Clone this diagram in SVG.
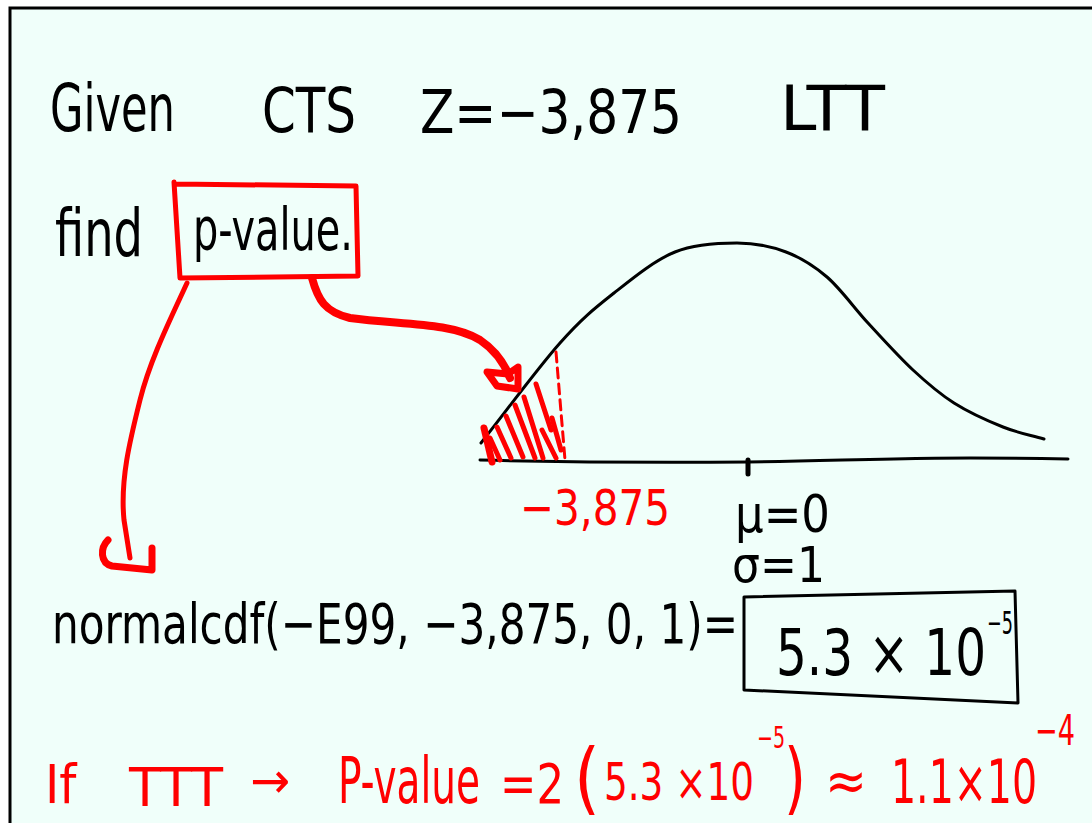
<svg xmlns="http://www.w3.org/2000/svg" width="1092" height="823" viewBox="0 0 1092 823">
<defs>
<style>
.ink{font-family:"Liberation Sans Narrow","DejaVu Sans Condensed","Liberation Sans",sans-serif;fill:#000}
.red{font-family:"Liberation Sans Narrow","DejaVu Sans Condensed","Liberation Sans",sans-serif;fill:#ff0000}
.rs{fill:none;stroke:#ff0000;stroke-linecap:round;stroke-linejoin:round}
.bs{fill:none;stroke:#000;stroke-linecap:round;stroke-linejoin:round}
</style>
</defs>
<rect x="0" y="0" width="1092" height="823" fill="#ffffff"/>
<rect x="10" y="8" width="1100" height="900" fill="#f0fffa" stroke="#000" stroke-width="3"/>

<g id="title">
<text class="ink" x="50" y="131" font-size="66" textLength="125" lengthAdjust="spacingAndGlyphs">Given</text>
<text class="ink" x="262" y="132" font-size="62" textLength="94" lengthAdjust="spacingAndGlyphs">CTS</text>
<text class="ink" x="420" y="133" font-size="60" textLength="262" lengthAdjust="spacingAndGlyphs">Z=−3,875</text>
<text class="ink" x="780" y="130" font-size="62" textLength="105" lengthAdjust="spacingAndGlyphs">LTT</text>
</g>

<g id="find">
<text class="ink" x="55" y="256" font-size="66" textLength="88" lengthAdjust="spacingAndGlyphs">find</text>
</g>

<g id="pvalue-box">
<path class="rs" stroke-width="5" d="M174,182 L180,278 L358,276 L356,186 L176,184"/>
<text class="ink" x="193" y="250" font-size="58" textLength="160" lengthAdjust="spacingAndGlyphs">p-value.</text>
</g>

<g id="bell-curve">
<path class="bs" stroke-width="3" d="M481,443 C507.3,409.7 537.8,368 560,343 C582.2,318 594.8,308.2 614,293 C633.2,277.8 654.5,260.3 675,252 C695.5,243.7 718.5,243 737,243 C755.5,243 771,246.3 786,252 C801,257.7 813.3,265.2 827,277 C840.7,288.8 853.7,307.5 868,323 C882.3,338.5 898.7,356.7 913,370 C927.3,383.3 939,393.5 954,403 C969,412.5 988,421 1003,427 C1018,433 1030.3,435 1044,439"/>
<path class="bs" stroke-width="3" d="M480,460 C560,462 640,463 748,462 S900,456 1068,459"/>
<line class="bs" x1="748" y1="460" x2="748" y2="474" stroke-width="5"/>
<path class="rs" stroke-width="3" stroke-dasharray="10 6" d="M556,352 L565,460"/>
<g class="rs" stroke-width="5">
<path d="M484,428 L492,462" stroke-width="7"/>
<path d="M490,438 L500,460"/>
<path d="M497,427 L511,458"/>
<path d="M506,416 L523,457"/>
<path d="M515,405 L535,458"/>
<path d="M524,397 L543,458"/>
<path d="M536,384 L551,430"/>
<path d="M542,430 L556,458"/>
<path d="M552,418 L561,450"/>
</g>
</g>

<g id="labels">
<text class="red" x="520" y="525" font-size="50" textLength="150" lengthAdjust="spacingAndGlyphs">−3,875</text>
<text class="ink" x="735" y="532" font-size="52" textLength="95" lengthAdjust="spacingAndGlyphs">μ=0</text>
<text class="ink" x="732" y="582" font-size="50" textLength="93" lengthAdjust="spacingAndGlyphs">σ=1</text>
</g>

<g id="normalcdf">
<text class="ink" x="52" y="643" font-size="56" textLength="686" lengthAdjust="spacingAndGlyphs">normalcdf(−E99, −3,875, 0, 1)=</text>
</g>

<g id="result-box">
<path class="bs" stroke-width="3" d="M744,597 L1015,591 L1018,703 L744,690 Z"/>
<text class="ink" x="776" y="675" font-size="64" textLength="210" lengthAdjust="spacingAndGlyphs">5.3 × 10</text>
<text class="ink" x="987" y="634" font-size="32" textLength="26" lengthAdjust="spacingAndGlyphs">−5</text>
</g>

<g id="two-tailed">
<text class="red" x="45" y="803" font-size="54">If</text>
<text class="red" x="129" y="806" font-size="54" textLength="94" lengthAdjust="spacingAndGlyphs">TTT</text>
<text class="red" x="250" y="798" font-size="50" textLength="40" lengthAdjust="spacingAndGlyphs">→</text>
<text class="red" x="338" y="803" font-size="64" textLength="142" lengthAdjust="spacingAndGlyphs">P-value</text>
<text class="red" x="500" y="803" font-size="56" textLength="64" lengthAdjust="spacingAndGlyphs">=2</text>
<text class="red" x="574" y="805" font-size="78" textLength="26" lengthAdjust="spacingAndGlyphs">(</text>
<text class="red" x="604" y="800" font-size="52" textLength="150" lengthAdjust="spacingAndGlyphs">5.3 ×10</text>
<text class="red" x="757" y="748" font-size="30" textLength="28" lengthAdjust="spacingAndGlyphs">−5</text>
<text class="red" x="784" y="805" font-size="78" textLength="22" lengthAdjust="spacingAndGlyphs">)</text>
<text class="red" x="825" y="800" font-size="56" textLength="42" lengthAdjust="spacingAndGlyphs">≈</text>
<text class="red" x="891" y="803" font-size="60" textLength="146" lengthAdjust="spacingAndGlyphs">1.1×10</text>
<text class="red" x="1035" y="745" font-size="42" textLength="40" lengthAdjust="spacingAndGlyphs">−4</text>
</g>

<g id="connectors">
<path class="rs" stroke-width="8" d="M312,278 C318,300 325,312 350,318 C400,325 450,322 480,340 C495,350 505,365 510,378"/>
<path class="rs" stroke-width="7" fill="#ff0000" d="M487,372 L497,386 L518,389 L518,367 L508,374 Z"/>
<path class="rs" stroke-width="5" d="M187,283 C170,320 150,360 140,400 C130,440 120,480 124,520 L130,558"/>
<path class="rs" stroke-width="7" d="M108,540 C100,548 100,563 112,566 L152,570 L152,548"/>
</g>
</svg>
